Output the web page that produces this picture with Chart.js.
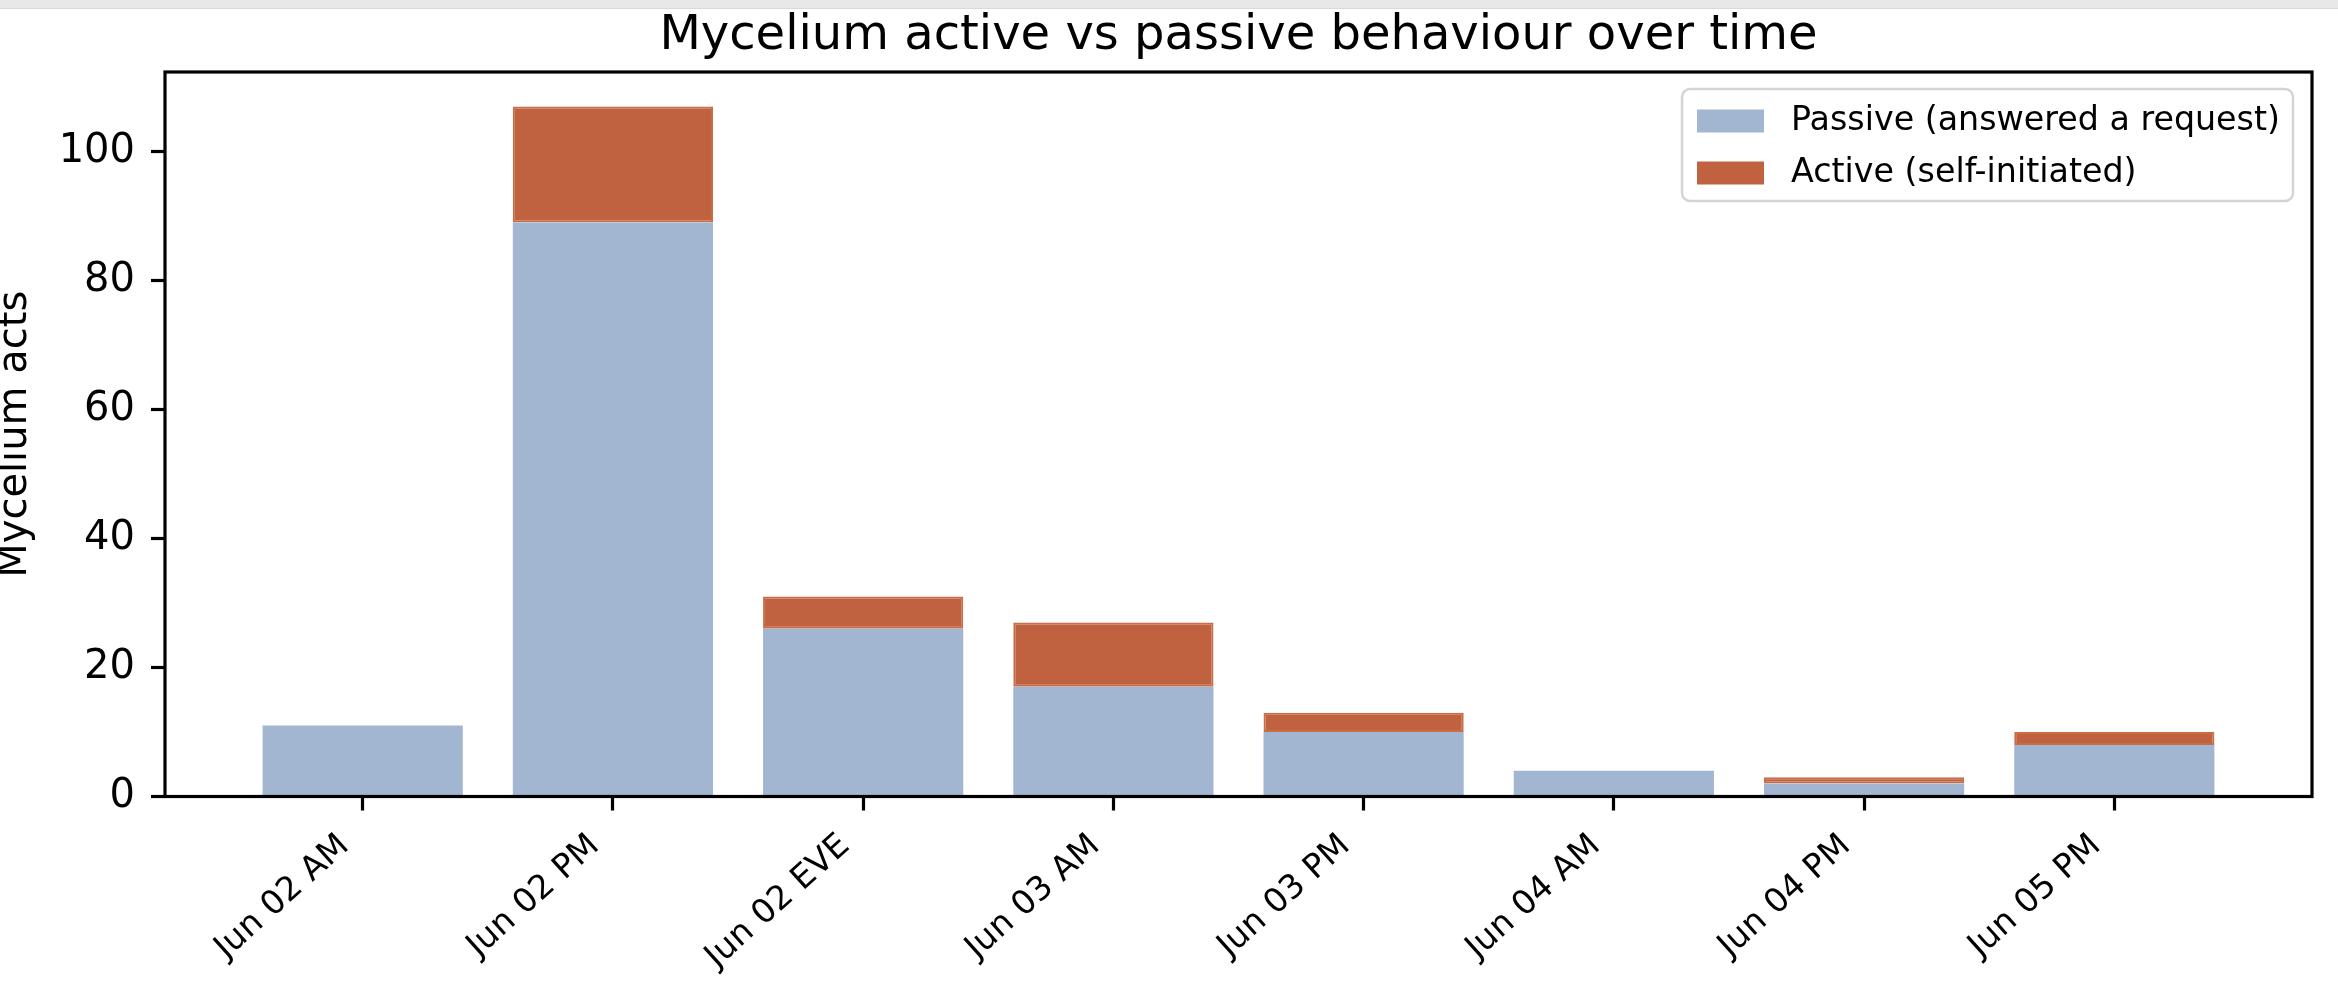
<!DOCTYPE html>
<html>
<head>
<meta charset="utf-8">
<title>Mycelium active vs passive behaviour over time</title>
<script src="https://cdn.jsdelivr.net/npm/chart.js@4.4.1/dist/chart.umd.min.js"></script>
<style>
  html, body { margin: 0; padding: 0; background: #fff; overflow: hidden; }
  #topbar { position: absolute; left: 0; top: 0; width: 2338px; height: 8px; background: #e8e8e8; border-bottom: 1px solid #d9d9d9; z-index: 2; }
  #chart { position: absolute; left: -14px; top: 0; }
</style>
</head>
<body>
<div id="topbar"></div>
<canvas id="chart" width="2352" height="996"></canvas>
<script>
var categories = ['Jun 02 AM', 'Jun 02 PM', 'Jun 02 EVE', 'Jun 03 AM', 'Jun 03 PM', 'Jun 04 AM', 'Jun 04 PM', 'Jun 05 PM'];
var passive = [11, 89, 26, 17, 10, 4, 2, 8];
var active = [0, 18, 5, 10, 3, 0, 1, 2];
var yTicks = [0, 20, 40, 60, 80, 100];
var yMax = 112.35;

var passiveColor = '#a2b6d1';
var activeColor = '#c0623f';
var font = 'DejaVu Sans';

// matplotlib style frame + legend inside the axes (top right)
var frameAndLegend = {
    id: 'frameAndLegend',
    afterDraw: function (chart) {
        var ctx = chart.ctx, a = chart.chartArea;
        ctx.save();
        ctx.strokeStyle = '#000';
        ctx.lineWidth = 3.2;
        ctx.strokeRect(a.left, a.top, a.right - a.left, a.bottom - a.top);

        var fs = 33.3;
        ctx.font = fs + 'px "' + font + '"';
        var sets = chart.data.datasets;
        var textW = Math.max.apply(null, sets.map(function (d) { return ctx.measureText(d.label).width; }));
        var w = 15 + 67 + 27 + textW + 13;
        var h = 112;
        var x = a.right - 19 - w, y = a.top + 17;
        ctx.beginPath();
        ctx.roundRect(x, y, w, h, 8);
        ctx.fillStyle = 'rgba(255,255,255,0.8)';
        ctx.fill();
        ctx.strokeStyle = '#d4d4d4';
        ctx.lineWidth = 2.5;
        ctx.stroke();
        sets.forEach(function (d, i) {
            var cy = y + 32 + i * 52;
            ctx.fillStyle = d.backgroundColor;
            ctx.fillRect(x + 15, cy - 11.5, 67, 23);
            ctx.fillStyle = '#000';
            ctx.textBaseline = 'middle';
            ctx.textAlign = 'left';
            ctx.fillText(d.label, x + 15 + 67 + 27, cy);
        });
        ctx.restore();
    }
};

var tickGrid = { display: true, offset: false, drawOnChartArea: false, drawTicks: true, tickLength: 14, tickWidth: 3.2, tickColor: '#000' };

var ctx = document.getElementById('chart').getContext('2d');
var chart = new Chart(ctx, {
    type: 'bar',
    data: {
        datasets: [{
            label: 'Passive (answered a request)',
            data: passive.map(function (v, i) { return { x: i, y: v }; }),
            backgroundColor: passiveColor,
            borderWidth: 0,
            categoryPercentage: 1,
            barPercentage: 0.8
        }, {
            label: 'Active (self-initiated)',
            data: active.map(function (v, i) { return { x: i, y: v }; }),
            backgroundColor: activeColor,
            borderColor: 'rgba(188,72,24,0.8)',
            borderWidth: function (c) { return c.raw && c.raw.y > 0 ? 2 : 0; },
            borderSkipped: false,
            categoryPercentage: 1,
            barPercentage: 0.8
        }]
    },
    options: {
        responsive: false,
        animation: false,
        layout: { padding: { left: 0, right: 26, top: 0, bottom: 0 } },
        scales: {
            x: {
                type: 'linear',
                min: -0.79,
                max: 7.79,
                stacked: true,
                offset: false,
                afterBuildTicks: function (s) { s.ticks = categories.map(function (c, i) { return { value: i }; }); },
                afterFit: function (s) { s.height = 199.5; },
                grid: tickGrid,
                border: { display: false },
                ticks: {
                    autoSkip: false,
                    maxRotation: 42,
                    minRotation: 42,
                    padding: 16,
                    labelOffset: -18,
                    color: '#000',
                    font: { family: font, size: 33.3 },
                    callback: function (v) { return categories[v]; }
                }
            },
            y: {
                min: 0,
                max: yMax,
                stacked: true,
                afterBuildTicks: function (s) { s.ticks = yTicks.map(function (v) { return { value: v }; }); },
                afterFit: function (s) { s.width = 179; },
                grid: tickGrid,
                border: { display: false },
                ticks: { padding: 16, color: '#000', font: { family: font, size: 40 } },
                title: {
                    display: true,
                    text: 'Mycelium acts',
                    color: '#000',
                    font: { family: font, size: 40 },
                    padding: { top: 6, bottom: 0 }
                }
            }
        },
        plugins: {
            title: {
                display: true,
                text: 'Mycelium active vs passive behaviour over time',
                color: '#000',
                fullSize: false,
                font: { family: font, size: 48, weight: 'normal' },
                padding: { top: 8, bottom: 6.4 }
            },
            legend: { display: false },
            tooltip: { enabled: false }
        }
    },
    plugins: [frameAndLegend]
});
</script>
</body>
</html>
